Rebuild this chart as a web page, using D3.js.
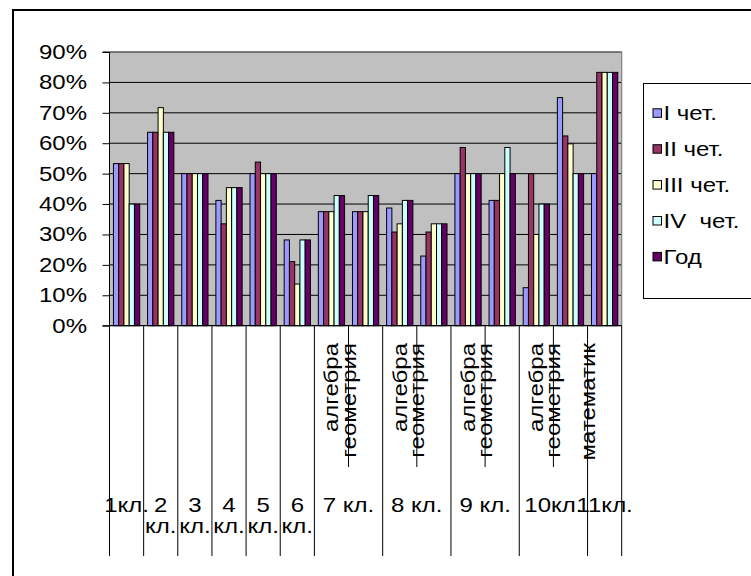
<!DOCTYPE html>
<html>
<head>
<meta charset="utf-8">
<script src="https://cdn.jsdelivr.net/npm/d3@7"></script>
<style>
  html,body{margin:0;padding:0;background:#fff;}
  svg text{font-family:"Liberation Sans",Arial,sans-serif;fill:#000;}
</style>
</head>
<body>
<svg id="chart" width="751" height="576"></svg>
<script>
// ---- data ----
const categoryGroups = ["1кл.","2 кл.","3 кл.","4 кл.","5 кл.","6 кл.","7 кл.","7 кл.","8 кл.","8 кл.","9 кл.","9 кл.","10кл.","10кл.","11кл."];
const categorySubs = ["","","","","","","алгебра","геометрия","алгебра","геометрия","алгебра","геометрия","алгебра","геометрия","математик"];
const seriesNames = ["I чет.","II чет.","III чет.","IV  чет.","Год"];
const q1 = [53.3,63.6,50,41.2,50,28.2,37.5,37.5,38.7,22.9,50,41.2,12.5,75,50];
const q2 = [53.3,63.6,50,33.5,53.8,21.1,37.5,37.5,30.8,30.8,58.6,41.2,50,62.4,83.3];
const q3 = [53.3,71.7,50,45.4,50,13.7,37.5,37.5,33.5,33.5,50,50,30,59.8,83.3];
const q4 = [40,63.6,50,45.4,50,28.2,42.8,42.8,41.2,33.5,50,58.6,40,50,83.3];
const year = [40,63.6,50,45.4,50,28.2,42.8,42.8,41.2,33.5,50,50,40,50,83.3];
const yTicks = [0,10,20,30,40,50,60,70,80,90];
const seriesColors = ["#9999FF","#993366","#FFFFCC","#CCFFFF","#660066"];
const seriesValues = [q1,q2,q3,q4,year];

// ---- layout ----
const svg = d3.select("#chart");
const plot = {left:109.5, right:621.7, top:52, bottom:325.7};
const FS = 20, SX = 1.2;

svg.append("rect").attr("x",13).attr("y",10).attr("width",800).attr("height",600)
  .attr("fill","#fff").attr("stroke","#000").attr("stroke-width",2);

const y = d3.scaleLinear().domain([0,90]).range([plot.bottom, plot.top]);
const x = d3.scaleBand().domain(d3.range(categoryGroups.length)).range([plot.left, plot.right]);
const gapRatio = 1.5;
const barW = x.bandwidth()/(seriesNames.length + gapRatio);
const xs = d3.scaleBand().domain(d3.range(seriesNames.length))
  .range([barW*gapRatio/2, x.bandwidth()-barW*gapRatio/2]);

// plot area
svg.append("rect").attr("x",plot.left).attr("y",plot.top)
  .attr("width",plot.right-plot.left).attr("height",plot.bottom-plot.top)
  .attr("fill","#C0C0C0");

// gridlines
svg.append("g").selectAll("line").data(yTicks.filter(d=>d>0)).join("line")
  .attr("x1",plot.left).attr("x2",plot.right)
  .attr("y1",d=>y(d)).attr("y2",d=>y(d))
  .attr("stroke","#000").attr("stroke-width",1);

// plot border (top/right gray)
svg.append("path")
  .attr("d",`M${plot.left},${plot.top}H${plot.right}V${plot.bottom}`)
  .attr("fill","none").attr("stroke","#808080").attr("stroke-width",1.2);

// bars
const gCat = svg.append("g").selectAll("g").data(d3.range(categoryGroups.length)).join("g")
  .attr("transform",i=>`translate(${x(i)},0)`);
gCat.selectAll("rect").data(i=>seriesValues.map((s,k)=>({k, v:s[i]}))).join("rect")
  .attr("x",d=>xs(d.k)).attr("width",xs.bandwidth())
  .attr("y",d=>y(d.v)).attr("height",d=>y(0)-y(d.v))
  .attr("fill",d=>seriesColors[d.k]).attr("stroke","#000").attr("stroke-width",1);

// y axis
const yAxis = d3.axisLeft(y).tickValues(yTicks).tickSize(7).tickFormat("");
const ya = svg.append("g").attr("transform",`translate(${plot.left},0)`).call(yAxis);
ya.selectAll("path,line").attr("stroke","#000");
ya.select(".domain").attr("d",`M-7,${plot.top}H0V${plot.bottom}H-7`);
svg.append("g").selectAll("text").data(yTicks).join("text")
  .attr("transform",d=>`translate(87,${y(d)+7}) scale(${SX},1)`)
  .attr("text-anchor","end").attr("font-size",FS)
  .text(d=>d+"%");

// category axis
svg.append("line").attr("x1",plot.left).attr("x2",plot.right)
  .attr("y1",plot.bottom).attr("y2",plot.bottom).attr("stroke","#000").attr("stroke-width",1.2);
const nCat = categoryGroups.length;
const boundaries = d3.range(nCat+1);
const isGroupBoundary = b => b===0 || b===nCat || categoryGroups[b]!==categoryGroups[b-1];
svg.append("g").selectAll("line").data(boundaries).join("line")
  .attr("x1",b=> b<nCat ? x(b) : plot.right).attr("x2",b=> b<nCat ? x(b) : plot.right)
  .attr("y1",plot.bottom)
  .attr("y2",b=> isGroupBoundary(b) ? 556 : 467)
  .attr("stroke","#000").attr("stroke-width",1);

// sub labels (rotated)
svg.append("g").selectAll("text").data(d3.range(nCat).filter(i=>categorySubs[i])).join("text")
  .attr("transform",i=>{
    const shift = categorySubs[i].length>7 ? x.bandwidth()/2 : 0;
    const cx = x(i)+x.bandwidth()/2 - shift + 7;
    return `translate(${cx},343) rotate(-90) scale(${SX},1)`;
  })
  .attr("text-anchor","end").attr("font-size",FS)
  .text(i=>categorySubs[i]);

// group labels
const groups = [];
categoryGroups.forEach((g,i)=>{
  if(!groups.length || groups[groups.length-1].name!==g) groups.push({name:g, start:i, end:i});
  else groups[groups.length-1].end = i;
});
const gl = svg.append("g").selectAll("text").data(groups).join("text")
  .attr("text-anchor","middle").attr("font-size",FS)
  .attr("transform",g=>{
    const cx = (x(g.start) + x(g.end) + x.bandwidth())/2;
    return `translate(${cx},511.5) scale(${SX},1)`;
  });
gl.each(function(g){
  const t = d3.select(this);
  const lines = (g.end===g.start) ? g.name.split(" ") : [g.name];
  lines.forEach((ln,j)=>{
    t.append("tspan").attr("x",0).attr("dy", j===0?0:22).text(ln);
  });
});

// legend
svg.append("rect").attr("x",643.5).attr("y",83.5).attr("width",200).attr("height",215)
  .attr("fill","#fff").attr("stroke","#000").attr("stroke-width",1);
const lg = svg.append("g").selectAll("g").data(seriesNames).join("g")
  .attr("transform",(d,i)=>`translate(0,${113.3 + i*35.9})`);
lg.append("rect").attr("x",653).attr("y",-4.5).attr("width",8.5).attr("height",8.5)
  .attr("fill",(d,i)=>seriesColors[i]).attr("stroke","#000").attr("stroke-width",1);
lg.append("text").attr("transform",`translate(663.5,7) scale(${SX},1)`)
  .attr("font-size",FS).attr("xml:space","preserve").style("white-space","pre")
  .text(d=>d);
</script>
</body>
</html>
